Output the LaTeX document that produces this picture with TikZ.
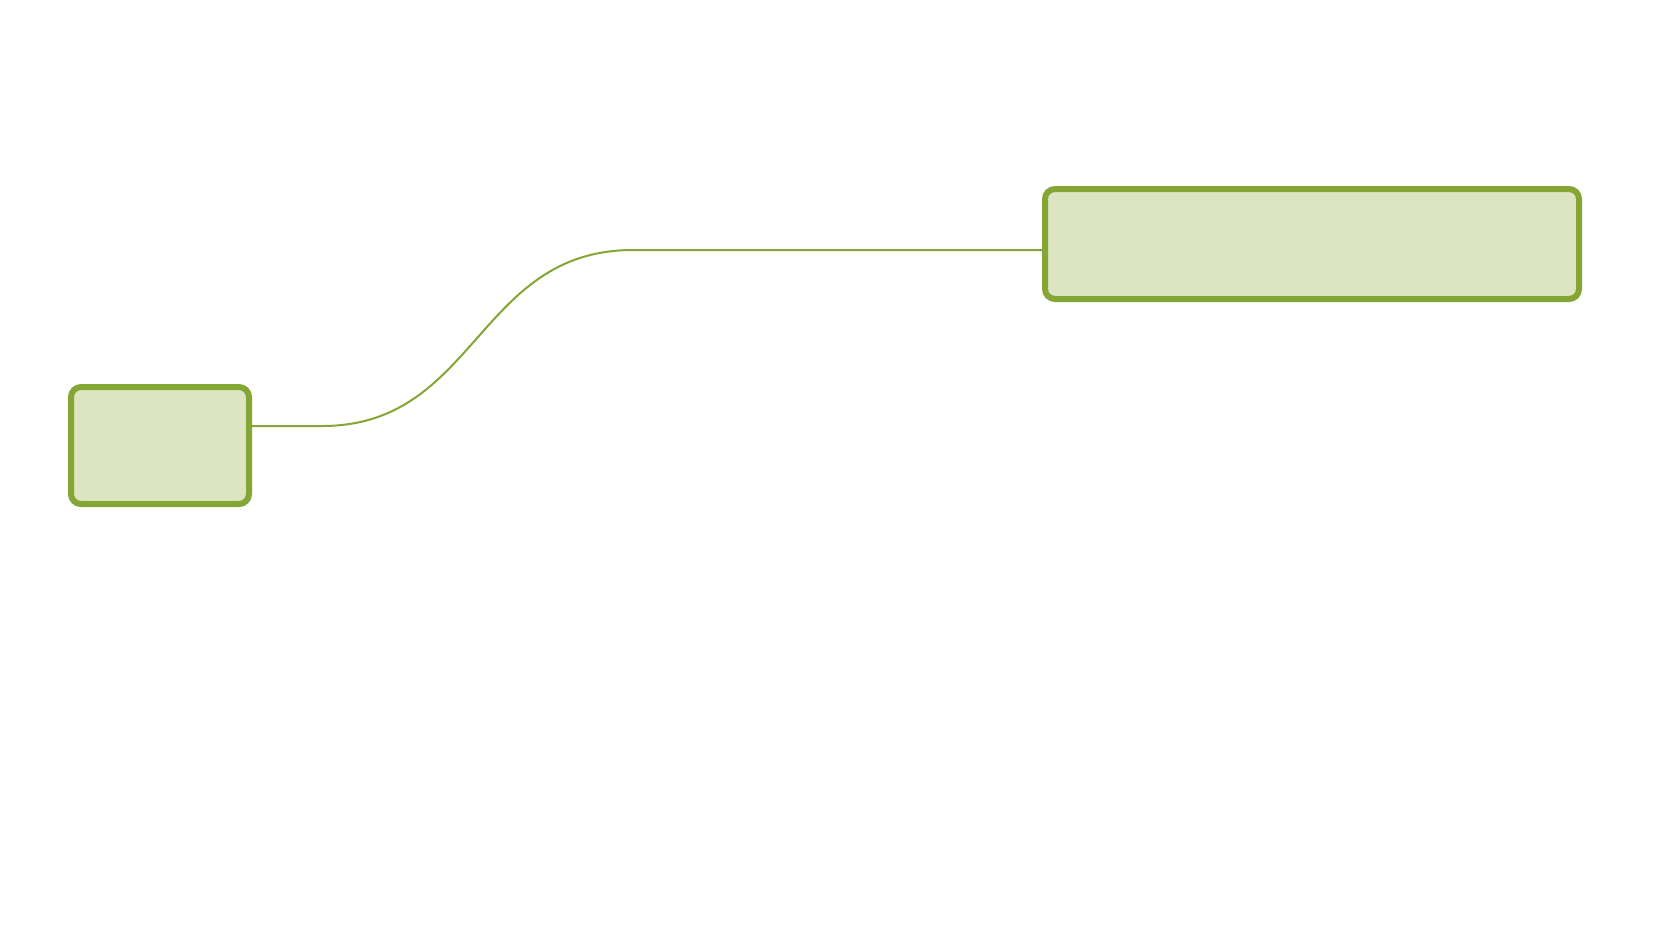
\documentclass[tikz,border=0pt]{standalone}
\usetikzlibrary{calc}
\definecolor{boxline}{RGB}{132,166,52}
\definecolor{boxfill}{RGB}{219,229,193}
\begin{document}
\begin{tikzpicture}[x=1pt,y=-1pt,
  greenbox/.style={draw=boxline,fill=boxfill,line width=6pt,rounded corners=10pt,
    rectangle,inner sep=0pt,outer sep=0pt},
  link/.style={draw=boxline,line width=2pt}]
\useasboundingbox[fill=white] (0,0) rectangle (1654,930);
\node[greenbox,minimum width=178pt,minimum height=117pt] (a) at (160,445.5) {};
\node[greenbox,minimum width=534pt,minimum height=110pt] (b) at (1312,244) {};
\coordinate (a1) at ([yshift=19.5pt]a.east);
\coordinate (b1) at ([yshift=-6pt]b.west);
\draw[link] (a1) -- ($(a1)+(73,0)$) .. controls ($(a1)+(228,0)$) and ($(b1)+(-568,0)$) .. ($(b1)+(-412,0)$) -- (b1);
\end{tikzpicture}
\end{document}
